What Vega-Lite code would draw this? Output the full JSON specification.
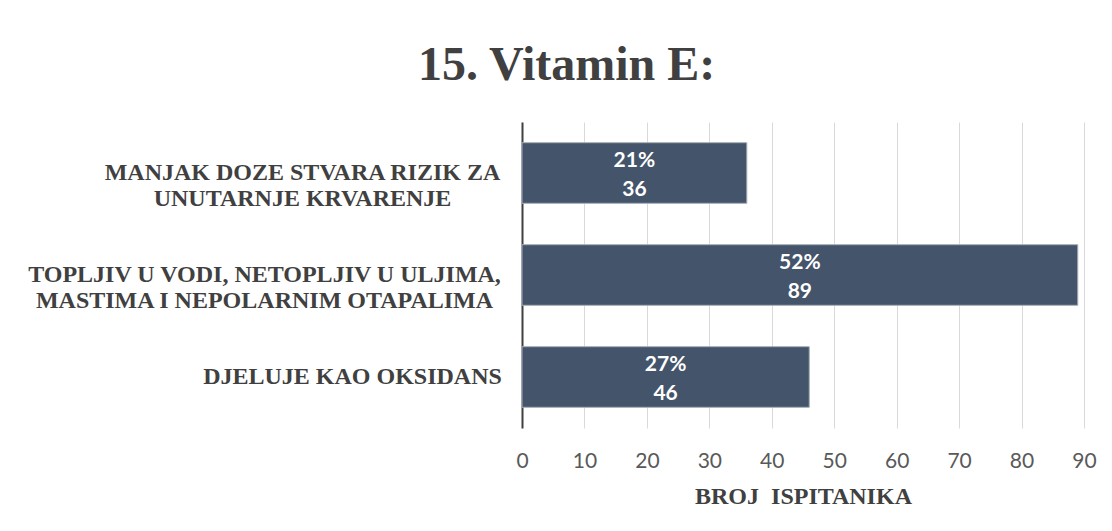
{
  "$schema": "https://vega.github.io/schema/vega-lite/v6.json",
  "width": 562,
  "height": 306,
  "autosize": {"type": "none"},
  "padding": {"left": 522, "top": 122, "right": 28, "bottom": 103},
  "background": "white",
  "title": {
    "text": "15. Vitamin E:",
    "font": "Liberation Serif",
    "fontSize": 48,
    "fontWeight": "bold",
    "color": "#404040",
    "anchor": "middle",
    "frame": "bounds",
    "baseline": "alphabetic",
    "offset": -6,
    "dx": 5
  },
  "data": {
    "values": [
      {"odgovor": "MANJAK DOZE STVARA RIZIK ZA\nUNUTARNJE KRVARENJE", "broj": 36, "postotak": "21%"},
      {"odgovor": "TOPLJIV U VODI, NETOPLJIV U ULJIMA,\nMASTIMA I NEPOLARNIM OTAPALIMA", "broj": 89, "postotak": "52%"},
      {"odgovor": "DJELUJE KAO OKSIDANS", "broj": 46, "postotak": "27%"}
    ]
  },
  "encoding": {
    "y": {
      "field": "odgovor",
      "type": "nominal",
      "sort": null,
      "scale": {"paddingInner": 0.406, "paddingOuter": 0.203},
      "axis": {
        "title": null,
        "domain": true,
        "domainColor": "#404040",
        "domainWidth": 2,
        "ticks": false,
        "tickSize": 0,
        "grid": false,
        "labelFont": "Liberation Serif",
        "labelFontSize": 24,
        "labelFontWeight": "bold",
        "labelColor": "#404040",
        "labelAlign": "center",
        "labelBaseline": "middle",
        "labelLineHeight": 26,
        "labelLimit": 1000,
        "labelExpr": "split(datum.label, '\\n')",
        "labelPadding": {
          "condition": [
            {"test": "indexof(datum.value, 'MANJAK') == 0", "value": 220},
            {"test": "indexof(datum.value, 'TOPLJIV') == 0", "value": 258}
          ],
          "value": 170
        }
      }
    }
  },
  "layer": [
    {
      "mark": {"type": "bar", "color": "#44546A", "stroke": "#a3acb8", "strokeWidth": 1},
      "encoding": {
        "x": {
          "field": "broj",
          "type": "quantitative",
          "scale": {"domain": [0, 90], "nice": false},
          "axis": {
            "title": "BROJ\u00a0 ISPITANIKA",
            "titleFont": "Liberation Serif",
            "titleFontSize": 24,
            "titleFontWeight": "bold",
            "titleColor": "#404040",
            "titleBaseline": "alphabetic",
            "titleY": 75,
            "values": [0, 10, 20, 30, 40, 50, 60, 70, 80, 90],
            "domain": false,
            "ticks": false,
            "tickSize": 0,
            "grid": true,
            "gridColor": "#d9d9d9",
            "gridWidth": 1,
            "labelFont": "Lato",
            "labelFontSize": 21,
            "labelColor": "#595959",
            "labelBaseline": "alphabetic",
            "labelPadding": 39,
            "labelFlush": false,
            "labelOverlap": false
          }
        }
      }
    },
    {
      "mark": {"type": "text", "font": "Lato", "fontSize": 21, "fontWeight": "bold", "color": "white", "align": "center", "baseline": "alphabetic", "dy": -6},
      "encoding": {
        "x": {"field": "broj", "type": "quantitative", "scale": {"domain": [0, 180], "nice": false}, "axis": null},
        "text": {"field": "postotak", "type": "nominal"}
      }
    },
    {
      "mark": {"type": "text", "font": "Lato", "fontSize": 21, "fontWeight": "bold", "color": "white", "align": "center", "baseline": "alphabetic", "dy": 23},
      "encoding": {
        "x": {"field": "broj", "type": "quantitative", "scale": {"domain": [0, 180], "nice": false}, "axis": null},
        "text": {"field": "broj", "type": "quantitative"}
      }
    }
  ],
  "resolve": {"scale": {"x": "independent"}},
  "config": {"view": {"stroke": null}}
}
